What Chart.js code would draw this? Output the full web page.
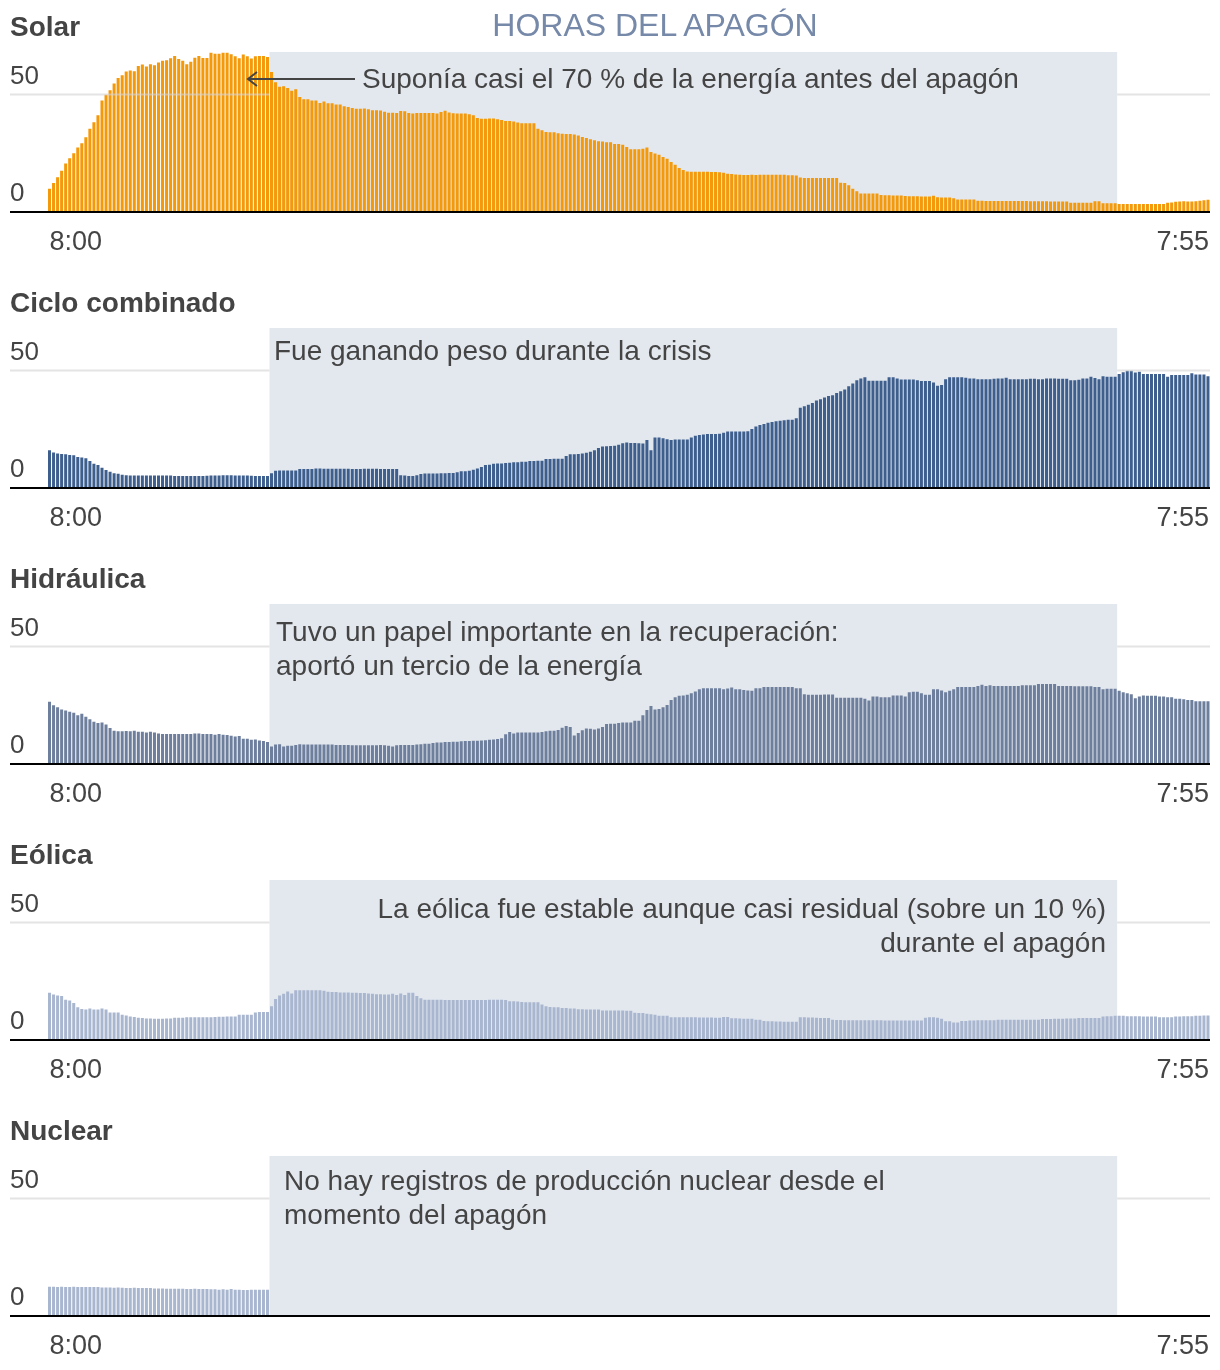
<!DOCTYPE html>
<html lang="es">
<head>
<meta charset="utf-8">
<title>Horas del apagón</title>
<script src="https://cdn.jsdelivr.net/npm/chart.js@4.4.1/dist/chart.umd.min.js"></script>
<style>
  body { margin: 0; background: #fff; }
  #wrap { position: relative; width: 1220px; height: 1370px; }
  #wrap canvas { position: absolute; left: 0; }
  #cabecera {
    position: absolute; left: 655px; top: 0; transform: translateX(-50%);
    font: 32px "Liberation Sans", Arial, sans-serif; line-height: 50px;
    color: #7689a9; white-space: nowrap; z-index: 2;
  }
</style>
</head>
<body>
<div id="wrap">
  <div id="cabecera">HORAS DEL APAGÓN</div>
  <canvas id="g0" width="1220" height="276" style="top:0px"></canvas>
  <canvas id="g1" width="1220" height="276" style="top:276px"></canvas>
  <canvas id="g2" width="1220" height="276" style="top:552px"></canvas>
  <canvas id="g3" width="1220" height="276" style="top:828px"></canvas>
  <canvas id="g4" width="1220" height="276" style="top:1104px"></canvas>
</div>
<script>
// franjas de 5 minutos, de 8:00 a 7:55 del día siguiente
var horas = [];
for (var i = 0; i < 288; i++) {
  var m = 8 * 60 + i * 5;
  horas.push((Math.floor(m / 60) % 24) + ':' + String(m % 60).padStart(2, '0'));
}
var inicioApagon = '12:35';
var finApagon = '6:05';
var marcasY = [0, 50];
var etiquetasX = ['8:00', '7:55'];
var maxY = 67.8;

// % de la generación total
var solar = [
  9.9, 12.3, 14.7, 17.5, 20.6, 22.8, 24.9, 27.3, 29.1, 31.7,
  35.3, 38.0, 41.0, 47.3, 49.7, 51.6, 54.4, 56.8, 57.9, 59.5,
  60.0, 59.6, 61.9, 62.5, 61.7, 62.6, 62.2, 63.3, 64.1, 64.3,
  65.1, 66.1, 64.8, 64.1, 62.6, 63.7, 65.4, 66.1, 65.3, 65.3,
  67.5, 67.1, 67.1, 67.5, 67.5, 66.8, 66.0, 65.1, 66.7, 66.0,
  65.0, 66.0, 66.1, 66.1, 65.7, 59.3, 55.0, 53.1, 53.3, 52.5,
  51.4, 52.0, 48.7, 47.8, 47.8, 47.3, 47.3, 46.2, 46.8, 46.1,
  46.1, 45.6, 45.6, 44.8, 44.5, 44.1, 43.8, 43.8, 43.9, 43.5,
  43.1, 43.1, 43.0, 42.5, 42.1, 42.1, 42.0, 42.8, 42.7, 42.0,
  41.7, 41.9, 41.9, 41.9, 41.9, 41.9, 41.7, 42.4, 42.9, 42.2,
  41.8, 41.7, 41.7, 41.7, 41.4, 41.0, 39.8, 39.5, 39.5, 39.6,
  39.6, 39.3, 39.0, 38.6, 38.6, 38.4, 37.9, 37.6, 37.6, 37.6,
  37.6, 35.3, 34.6, 33.9, 33.8, 33.8, 33.4, 33.2, 33.1, 33.1,
  32.8, 32.4, 31.8, 31.4, 30.8, 30.4, 30.0, 29.9, 29.6, 29.6,
  28.8, 28.8, 28.5, 27.5, 26.6, 26.6, 26.6, 26.8, 27.3, 25.4,
  24.8, 24.3, 23.3, 22.6, 21.2, 20.0, 18.6, 17.8, 17.2, 17.1,
  17.1, 17.1, 17.1, 17.1, 17.0, 16.9, 16.8, 16.6, 16.2, 16.1,
  15.9, 15.8, 15.7, 15.7, 15.8, 15.7, 15.8, 15.8, 15.8, 15.8,
  15.8, 15.8, 15.8, 15.6, 15.6, 15.5, 14.6, 14.4, 14.4, 14.4,
  14.4, 14.4, 14.4, 14.4, 14.4, 14.4, 12.4, 12.3, 11.3, 9.9,
  8.8, 7.8, 7.8, 7.8, 7.8, 7.8, 7.2, 7.1, 7.1, 7.0,
  7.0, 7.0, 6.8, 6.7, 6.7, 6.7, 6.6, 6.6, 6.6, 6.9,
  6.2, 6.1, 6.1, 6.1, 5.8, 5.3, 5.3, 5.3, 5.3, 5.3,
  4.8, 4.8, 4.7, 4.7, 4.7, 4.7, 4.7, 4.7, 4.7, 4.7,
  4.7, 4.7, 4.7, 4.6, 4.6, 4.6, 4.6, 4.6, 4.5, 4.5,
  4.4, 4.4, 4.4, 3.9, 3.9, 3.9, 3.9, 3.9, 3.9, 4.6,
  4.6, 3.7, 3.7, 3.7, 3.7, 3.4, 3.4, 3.4, 3.4, 3.4,
  3.4, 3.4, 3.4, 3.4, 3.4, 3.4, 3.4, 3.9, 4.0, 4.3,
  4.5, 4.6, 4.5, 4.5, 4.6, 4.8, 5.0, 5.2
];

var cicloCombinado = [
  16.0, 15.0, 14.6, 14.4, 14.3, 14.0, 13.9, 13.1, 12.9, 12.6,
  11.4, 10.3, 9.7, 8.6, 7.6, 6.9, 6.3, 6.0, 5.6, 5.4,
  5.3, 5.3, 5.3, 5.3, 5.3, 5.3, 5.3, 5.3, 5.3, 5.3,
  5.3, 5.1, 5.1, 5.1, 5.1, 5.1, 5.1, 5.1, 5.1, 5.2,
  5.3, 5.3, 5.3, 5.4, 5.4, 5.4, 5.3, 5.3, 5.3, 5.3,
  5.2, 5.1, 5.1, 5.1, 5.1, 6.3, 7.3, 7.4, 7.4, 7.4,
  7.4, 7.4, 8.0, 8.1, 8.1, 8.1, 8.3, 8.3, 8.2, 8.2,
  8.2, 8.2, 8.2, 8.2, 8.2, 8.1, 8.1, 8.1, 8.2, 8.2,
  8.2, 8.2, 8.1, 8.1, 8.1, 8.0, 8.1, 5.4, 5.3, 5.1,
  5.1, 5.4, 5.9, 6.1, 6.1, 6.1, 6.1, 6.2, 6.3, 6.4,
  6.4, 6.7, 7.1, 7.1, 7.3, 7.7, 8.3, 8.9, 9.7, 9.9,
  10.3, 10.4, 10.4, 10.6, 10.7, 10.9, 10.9, 11.1, 11.1, 11.4,
  11.4, 11.5, 11.6, 12.3, 12.3, 12.4, 12.4, 12.4, 13.6, 14.3,
  14.3, 14.4, 14.6, 14.9, 15.4, 16.0, 16.9, 17.6, 17.7, 17.8,
  17.9, 18.3, 19.0, 19.3, 19.1, 19.1, 19.0, 18.9, 20.3, 16.0,
  21.4, 21.4, 21.1, 20.7, 20.3, 20.5, 20.6, 20.6, 20.6, 21.4,
  22.1, 22.5, 22.7, 22.9, 22.9, 22.9, 23.0, 23.4, 23.9, 23.9,
  23.9, 23.9, 23.9, 24.1, 25.0, 26.1, 26.7, 27.1, 27.6, 28.0,
  28.3, 28.5, 28.7, 28.9, 28.9, 29.6, 34.0, 34.6, 35.3, 36.0,
  37.1, 37.6, 38.3, 39.0, 39.3, 40.3, 41.0, 41.7, 43.1, 44.3,
  45.7, 46.4, 46.9, 45.4, 45.4, 45.4, 45.4, 45.4, 46.9, 46.9,
  46.4, 46.0, 46.0, 46.0, 46.0, 45.7, 45.3, 45.3, 45.3, 44.7,
  43.3, 43.6, 46.1, 46.9, 46.9, 46.9, 46.9, 46.7, 46.4, 46.4,
  46.1, 46.1, 46.1, 46.1, 46.3, 46.4, 46.4, 46.7, 46.1, 46.1,
  46.1, 46.1, 46.1, 46.3, 46.3, 46.1, 46.1, 46.4, 46.4, 46.4,
  46.3, 46.3, 46.3, 45.7, 45.7, 45.9, 46.4, 46.4, 47.1, 46.6,
  46.1, 47.4, 47.1, 47.1, 47.1, 48.3, 49.0, 49.7, 49.7, 48.9,
  49.3, 48.3, 48.3, 48.3, 48.3, 48.3, 48.3, 47.1, 47.9, 47.9,
  47.9, 47.9, 47.9, 48.6, 48.1, 48.1, 48.1, 47.4
];

var hidraulica = [
  26.4, 24.9, 24.0, 23.1, 22.7, 22.1, 21.7, 20.7, 21.3, 20.0,
  19.0, 17.9, 17.4, 17.6, 16.7, 15.3, 14.1, 13.9, 13.9, 14.0,
  13.9, 14.1, 13.7, 13.7, 13.4, 13.7, 13.4, 12.9, 12.7, 12.7,
  12.7, 12.7, 12.7, 12.7, 12.7, 12.7, 12.9, 12.9, 12.7, 12.7,
  12.7, 12.4, 12.7, 12.4, 12.3, 12.0, 11.7, 11.9, 10.7, 10.7,
  10.3, 10.4, 10.0, 9.7, 9.3, 7.4, 8.3, 8.4, 7.4, 7.7,
  7.7, 8.1, 8.4, 8.3, 8.3, 8.3, 8.3, 8.3, 8.3, 8.3,
  8.3, 8.1, 8.0, 8.0, 8.0, 7.9, 7.9, 7.9, 7.9, 7.9,
  7.9, 7.9, 8.0, 7.9, 7.7, 7.4, 7.9, 8.0, 8.0, 8.1,
  8.1, 8.3, 8.4, 8.6, 8.6, 8.9, 9.1, 9.1, 9.3, 9.3,
  9.4, 9.4, 9.6, 9.7, 9.7, 9.9, 9.9, 10.0, 10.1, 10.3,
  10.4, 10.6, 10.9, 12.6, 13.6, 12.9, 13.3, 13.3, 13.3, 13.3,
  13.3, 13.4, 13.6, 13.9, 14.1, 14.1, 14.4, 15.4, 16.1, 15.7,
  12.1, 13.1, 14.3, 15.0, 14.9, 14.6, 15.0, 15.7, 16.9, 17.1,
  17.1, 17.4, 17.6, 17.6, 17.6, 18.3, 18.3, 20.7, 22.9, 24.6,
  23.1, 23.3, 24.0, 25.0, 27.1, 28.3, 28.9, 29.0, 29.3, 30.0,
  30.7, 31.7, 32.1, 32.1, 32.1, 32.1, 32.1, 31.7, 32.0, 32.4,
  31.7, 31.7, 31.4, 31.1, 31.0, 32.1, 32.1, 32.6, 32.6, 32.6,
  32.6, 32.6, 32.6, 32.6, 32.6, 32.1, 32.1, 29.6, 29.3, 29.3,
  29.3, 29.3, 29.4, 29.4, 29.4, 28.1, 28.1, 28.1, 28.1, 28.1,
  28.1, 28.1, 27.7, 26.9, 28.6, 28.6, 28.3, 28.3, 28.3, 29.0,
  29.0, 29.0, 28.6, 30.4, 30.6, 30.6, 30.0, 29.3, 29.3, 31.7,
  31.7, 31.1, 30.4, 31.0, 31.7, 32.6, 32.6, 32.6, 32.6, 32.6,
  33.1, 33.6, 33.1, 33.4, 33.1, 33.1, 33.1, 33.1, 33.1, 33.1,
  33.1, 33.4, 33.4, 33.4, 33.4, 33.9, 33.9, 33.9, 33.9, 33.9,
  33.0, 33.0, 33.0, 33.0, 32.9, 32.9, 32.9, 32.9, 32.9, 32.6,
  32.6, 31.7, 31.9, 31.9, 31.9, 31.0, 30.4, 30.0, 29.6, 27.9,
  28.6, 29.0, 28.9, 28.9, 28.9, 28.6, 28.6, 28.3, 28.3, 27.7,
  27.7, 27.4, 27.1, 27.1, 26.6, 26.6, 26.6, 26.6
];

var eolica = [
  20.0, 19.3, 18.9, 18.6, 17.1, 16.7, 15.7, 13.9, 13.1, 12.9,
  13.3, 12.9, 12.9, 13.4, 12.9, 11.7, 11.7, 11.7, 10.7, 10.4,
  10.0, 9.7, 9.4, 9.3, 9.1, 9.1, 9.0, 9.0, 9.0, 9.1,
  9.1, 9.4, 9.4, 9.4, 9.6, 9.6, 9.6, 9.6, 9.6, 9.6,
  9.6, 9.7, 9.9, 9.9, 10.0, 10.0, 10.0, 10.7, 10.7, 10.7,
  10.7, 11.7, 11.9, 11.9, 11.9, 14.3, 17.4, 18.9, 19.6, 20.6,
  19.7, 21.1, 21.1, 21.1, 21.1, 21.1, 21.1, 21.1, 20.9, 20.4,
  20.3, 20.3, 20.1, 20.1, 20.1, 20.0, 20.0, 19.9, 19.9, 19.7,
  19.6, 19.4, 19.4, 19.3, 19.3, 19.6, 19.1, 19.7, 19.1, 20.0,
  20.0, 18.6, 17.7, 17.1, 17.1, 17.1, 17.1, 17.1, 17.0, 17.0,
  17.0, 17.0, 16.9, 16.9, 17.0, 17.0, 17.0, 16.9, 16.9, 17.1,
  17.1, 17.1, 17.1, 16.9, 16.4, 16.4, 16.3, 16.1, 16.0, 16.0,
  16.0, 16.0, 15.0, 14.3, 14.0, 13.9, 13.9, 13.6, 13.6, 13.4,
  13.4, 13.0, 13.0, 12.9, 12.9, 12.9, 12.9, 12.5, 12.5, 12.5,
  12.5, 12.5, 12.5, 12.4, 12.4, 11.6, 11.4, 11.4, 11.1, 10.9,
  10.7, 10.3, 10.3, 10.3, 9.6, 9.6, 9.6, 9.6, 9.6, 9.6,
  9.6, 9.5, 9.5, 9.5, 9.5, 9.4, 9.4, 9.7, 9.7, 9.2,
  9.2, 9.1, 9.0, 9.0, 9.0, 8.6, 8.6, 8.0, 7.9, 7.9,
  7.8, 7.8, 7.7, 7.7, 7.7, 7.7, 9.6, 9.6, 9.5, 9.5,
  9.4, 9.3, 9.3, 9.3, 8.6, 8.5, 8.5, 8.4, 8.4, 8.4,
  8.4, 8.4, 8.4, 8.4, 8.4, 8.4, 8.4, 8.3, 8.3, 8.3,
  8.3, 8.3, 8.3, 8.3, 8.3, 8.3, 8.3, 9.4, 9.6, 9.6,
  9.4, 9.0, 7.9, 7.9, 7.4, 7.4, 8.1, 8.1, 8.3, 8.3,
  8.4, 8.4, 8.4, 8.4, 8.4, 8.6, 8.6, 8.6, 8.6, 8.6,
  8.6, 8.6, 8.6, 8.6, 8.6, 8.6, 8.9, 8.9, 8.9, 9.0,
  9.0, 9.0, 9.1, 9.1, 9.1, 9.3, 9.3, 9.3, 9.3, 9.3,
  9.3, 10.0, 10.1, 10.1, 10.3, 10.3, 10.3, 10.1, 10.1, 10.1,
  10.1, 10.0, 10.0, 10.0, 10.0, 9.6, 9.6, 9.6, 9.6, 10.0,
  10.0, 10.1, 10.1, 10.1, 10.3, 10.3, 10.4, 10.4
];

// sin registros tras el apagón
var nuclear = [
  12.4, 12.4, 12.3, 12.4, 12.3, 12.3, 12.4, 12.3, 12.3, 12.3,
  12.3, 12.3, 12.3, 12.1, 12.1, 12.1, 12.0, 12.1, 12.0, 11.9,
  11.9, 12.0, 11.9, 11.9, 11.9, 11.9, 11.7, 11.7, 11.7, 11.6,
  11.6, 11.6, 11.6, 11.6, 11.4, 11.4, 11.6, 11.4, 11.4, 11.4,
  11.3, 11.3, 11.1, 11.3, 11.1, 11.4, 11.1, 11.1, 11.0, 11.0,
  11.1, 11.1, 11.1, 11.1, 11.1
];

var paneles = [
  { titulo: 'Solar', datos: solar, color: '#f4990a',
    notas: ['Suponía casi el 70 % de la energía antes del apagón'], notaX: 362, notaY: 88, flecha: true },
  { titulo: 'Ciclo combinado', datos: cicloCombinado, color: '#3e5f8e',
    notas: ['Fue ganando peso durante la crisis'], notaX: 274, notaY: 84 },
  { titulo: 'Hidráulica', datos: hidraulica, color: '#6e7f9d',
    notas: ['Tuvo un papel importante en la recuperación:', 'aportó un tercio de la energía'], notaX: 276, notaY: 89 },
  { titulo: 'Eólica', datos: eolica, color: '#a9b6cf',
    notas: ['La eólica fue estable aunque casi residual (sobre un 10 %)', 'durante el apagón'], notaX: 1106, notaY: 90, derecha: true },
  { titulo: 'Nuclear', datos: nuclear, color: '#a9b6cf',
    notas: ['No hay registros de producción nuclear desde el', 'momento del apagón'], notaX: 284, notaY: 86 }
];

var fuente = '"Liberation Sans", Arial, sans-serif';
var gris = '#444444';

var decoracion = {
  id: 'decoracion',
  beforeDatasetsDraw: function (chart) {
    var ctx = chart.ctx, a = chart.chartArea, x = chart.scales.x;
    var paso = (a.right - a.left) / horas.length;
    var x0 = x.getPixelForValue(horas.indexOf(inicioApagon)) - paso / 2;
    var x1 = x.getPixelForValue(horas.indexOf(finApagon)) - paso / 2;
    ctx.save();
    ctx.fillStyle = '#e3e8ef';
    ctx.fillRect(x0, a.top, x1 - x0, a.bottom - a.top);
    ctx.restore();
  },
  afterDatasetsDraw: function (chart) {
    var ctx = chart.ctx, a = chart.chartArea, x = chart.scales.x, y = chart.scales.y;
    var p = chart.options.plugins.decoracion;
    var paso = (a.right - a.left) / horas.length;
    var x0 = x.getPixelForValue(horas.indexOf(inicioApagon)) - paso / 2;
    var x1 = x.getPixelForValue(horas.indexOf(finApagon)) - paso / 2;
    ctx.save();

    // rejilla en 50, fuera de la franja del apagón
    var yg = Math.round(y.getPixelForValue(marcasY[1])) + 0.5;
    ctx.strokeStyle = 'rgba(210,210,210,0.6)';
    ctx.lineWidth = 2;
    ctx.beginPath();
    ctx.moveTo(10, yg); ctx.lineTo(x0, yg);
    ctx.moveTo(x1, yg); ctx.lineTo(a.right, yg);
    ctx.stroke();

    // línea base
    ctx.fillStyle = '#000';
    ctx.fillRect(10, a.bottom - 1, a.right - 10, 2);

    // etiquetas del eje Y
    ctx.fillStyle = gris;
    ctx.font = '26px ' + fuente;
    ctx.textAlign = 'left';
    ctx.textBaseline = 'alphabetic';
    marcasY.forEach(function (v) {
      var py = y.getPixelForValue(v);
      ctx.fillText(String(v), 10, py - (v === 0 ? 11 : 10));
    });

    // etiquetas del eje X
    ctx.font = '27px ' + fuente;
    ctx.fillText(etiquetasX[0], x.getPixelForValue(0) - paso / 2 + 2, a.bottom + 38);
    ctx.textAlign = 'right';
    ctx.fillText(etiquetasX[1], x.getPixelForValue(horas.length - 1) + paso / 2 - 1, a.bottom + 38);

    // título del panel
    ctx.textAlign = 'left';
    ctx.font = 'bold 28px ' + fuente;
    ctx.fillText(p.titulo, 10, 36);

    // anotación
    ctx.font = '28px ' + fuente;
    ctx.textAlign = p.derecha ? 'right' : 'left';
    p.notas.forEach(function (t, k) {
      ctx.fillText(t, p.notaX, p.notaY + k * 34);
    });

    if (p.flecha) {
      ctx.strokeStyle = gris;
      ctx.lineWidth = 2;
      ctx.beginPath();
      ctx.moveTo(355, 79); ctx.lineTo(248, 79);
      ctx.moveTo(257, 72); ctx.lineTo(248, 79); ctx.lineTo(257, 86);
      ctx.stroke();
    }
    ctx.restore();
  }
};

paneles.forEach(function (p, i) {
  new Chart(document.getElementById('g' + i), {
    type: 'bar',
    data: {
      labels: horas,
      datasets: [{
        data: p.datos,
        backgroundColor: p.color,
        borderWidth: 0,
        barPercentage: 1,
        categoryPercentage: 0.75
      }]
    },
    options: {
      responsive: false,
      animation: false,
      events: [],
      layout: { padding: { left: 47.5, right: 10, top: 52, bottom: 64 } },
      scales: {
        x: { display: false },
        y: { display: false, min: 0, max: maxY }
      },
      plugins: {
        legend: { display: false },
        tooltip: { enabled: false },
        decoracion: p
      }
    },
    plugins: [decoracion]
  });
});
</script>
</body>
</html>
